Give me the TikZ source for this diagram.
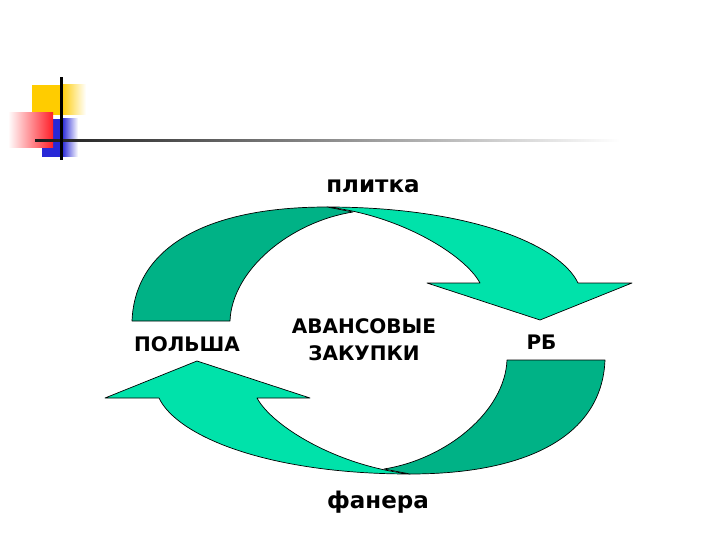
\documentclass[tikz,border=0pt]{standalone}
\usepackage{fontspec}
\setmainfont{DejaVu Sans}
\usetikzlibrary{shadings}
\definecolor{lightg}{RGB}{0,226,170}
\definecolor{darkg}{RGB}{0,178,134}
\definecolor{dyel}{RGB}{255,204,0}
\definecolor{dred}{RGB}{255,30,40}
\definecolor{dblue}{RGB}{40,40,215}
\tikzset{
  front/.style={fill=lightg, draw=black, line width=0.7pt, line join=round},
  back/.style={fill=darkg, draw=black, line width=0.7pt, line join=round},
  lbl/.style={font=\bfseries\fontsize{20}{27}\selectfont, text=black, align=center, inner sep=0pt},
  biglbl/.style={font=\bfseries\fontsize{23}{27}\selectfont, text=black, inner sep=0pt, anchor=base}
}
\newcommand\arrowpair{%
  \path[front] (327,207) .. controls (470,207) and (560,245) .. (578,283)
     -- (632,283) -- (540,320) -- (427,283) -- (480,283)
     .. controls (465,255) and (400,215) .. (327,207) -- cycle;
  \path[back] (132,321) .. controls (135,245) and (210,207) .. (327,207)
     -- (353,212) .. controls (290,222) and (232,270) .. (230,321) -- cycle;
}
\begin{document}
\begin{tikzpicture}[x=1pt,y=-1pt]
\useasboundingbox (0,0) rectangle (720,540);
% decoration
\fill[dyel] (32,85) rectangle (61,115);
\shade[left color=dyel, right color=white] (61,85) rectangle (86,115);
\fill[dblue] (42,119) rectangle (62,157);
\shade[left color=dblue, right color=white] (62,119) rectangle (78,157);
\shade[left color=white, right color=dred] (8,113) rectangle (53,148);
\shade[left color=black!90, right color=white] (35,140) rectangle (620,142);
\fill[black] (60,77) rectangle (62.5,160);
% arrows
\arrowpair
\begin{scope}[rotate around={180:(368.5,340.5)}]
\arrowpair
\end{scope}
% labels
\node[biglbl] (plitka) at (373,193) {плитка};
\node[biglbl] (fanera) at (378,508) {фанера};
\node[lbl] (polsha) at (187,344.5) {ПОЛЬША};
\node[lbl] (rb) at (541.5,342) {РБ};
\node[lbl] (avans) at (364,339.5) {АВАНСОВЫЕ\\ЗАКУПКИ};
\end{tikzpicture}
\end{document}
